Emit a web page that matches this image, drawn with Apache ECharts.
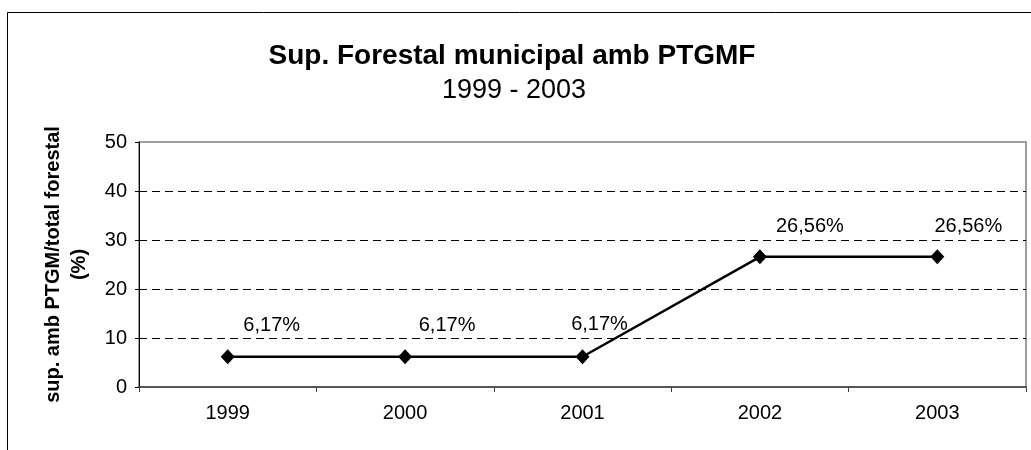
<!DOCTYPE html>
<html>
<head>
<meta charset="utf-8">
<script src="https://cdn.jsdelivr.net/npm/echarts@6/dist/echarts.min.js"></script>
<style>
  html, body { margin: 0; padding: 0; background: #fff; }
  #chart { width: 1031px; height: 450px; }
</style>
</head>
<body>
<div id="chart"></div>
<script>
  // data
  var years = ['1999', '2000', '2001', '2002', '2003'];
  var shares = [6.17, 6.17, 6.17, 26.56, 26.56];
  var shareLabels = ['6,17%', '6,17%', '6,17%', '26,56%', '26,56%'];

  // label nudges (the labels were moved by hand in the original)
  var labelNudge = [[44, -31], [42, -31], [17, -32], [50, -30], [31, -30]];

  var FONT = '"Liberation Sans", Arial, sans-serif';

  var myChart = echarts.init(document.getElementById('chart'));

  var points = [];
  for (var i = 0; i < shares.length; i++) {
    points.push({
      value: shares[i],
      label: { offset: labelNudge[i], formatter: shareLabels[i] }
    });
  }

  var option = {
    backgroundColor: '#fff',
    animation: false,
    textStyle: { fontFamily: FONT },
    title: [{
      text: 'Sup. Forestal municipal amb PTGMF',
      left: 507,
      top: 37,
      textAlign: 'center',
      textStyle: { fontSize: 28, fontWeight: 'bold', color: '#000', fontFamily: FONT }
    }, {
      text: '1999 - 2003',
      left: 509,
      top: 72,
      textAlign: 'center',
      textStyle: { fontSize: 27, fontWeight: 'normal', color: '#000', fontFamily: FONT }
    }],
    graphic: [{
      type: 'rect',
      silent: true,
      shape: { x: 7.5, y: 12.5, width: 1100, height: 500 },
      style: { fill: 'none', stroke: '#000', lineWidth: 1 }
    }],
    grid: {
      left: 139,
      right: 5,
      top: 142,
      bottom: 63,
      show: true,
      borderColor: '#808080',
      borderWidth: 1.5,
      backgroundColor: '#fff'
    },
    xAxis: {
      type: 'category',
      data: years,
      boundaryGap: true,
      axisLine: { lineStyle: { color: '#404040', width: 1.5 } },
      axisTick: { show: true, length: 5, lineStyle: { color: '#404040' } },
      axisLabel: { fontSize: 20, color: '#000', margin: 16, fontFamily: FONT },
      splitLine: { show: false }
    },
    yAxis: {
      type: 'value',
      min: 0,
      max: 50,
      interval: 10,
      name: 'sup. amb PTGM/total forestal\n(%)',
      nameLocation: 'middle',
      nameRotate: 90,
      nameGap: 47,
      nameTextStyle: { fontSize: 20, fontWeight: 'bold', color: '#000', lineHeight: 26, fontFamily: FONT },
      axisLine: { show: true, lineStyle: { color: '#000', width: 1 } },
      axisTick: { show: true, length: 4, lineStyle: { color: '#000' } },
      axisLabel: { fontSize: 20, color: '#000', margin: 12, fontFamily: FONT },
      splitLine: {
        show: true,
        showMinLine: false,
        showMaxLine: false,
        lineStyle: { color: '#000', type: [8, 5], width: 1 }
      }
    },
    series: [{
      type: 'line',
      data: points,
      symbol: 'diamond',
      symbolSize: [14, 15],
      lineStyle: { color: '#000', width: 2.5 },
      itemStyle: { color: '#000' },
      label: {
        show: true,
        position: 'inside',
        color: '#000',
        fontSize: 20,
        fontFamily: FONT
      }
    }]
  };

  myChart.setOption(option);
</script>
</body>
</html>
